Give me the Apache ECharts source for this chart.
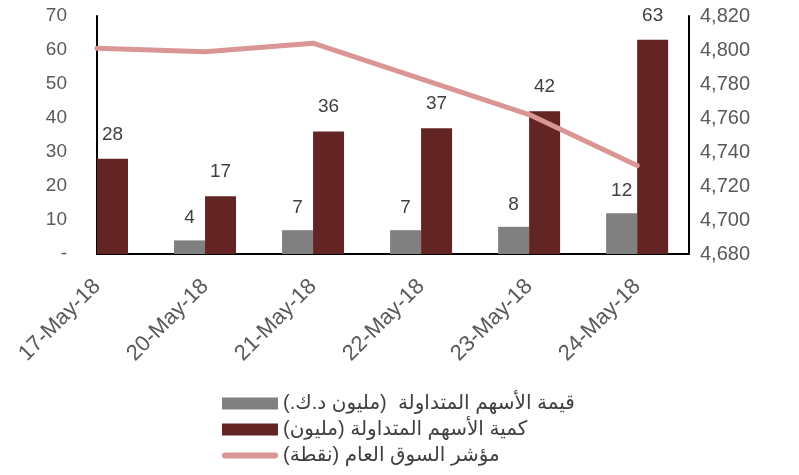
<!DOCTYPE html>
<html>
<head>
<meta charset="utf-8">
<script src="https://cdn.jsdelivr.net/npm/echarts@6/dist/echarts.min.js"></script>
<style>html,body{margin:0;padding:0;background:#fff}#c{width:799px;height:475px}</style>
</head>
<body>
<div id="c"></div>
<script>
const categories = ['17-May-18','20-May-18','21-May-18','22-May-18','23-May-18','24-May-18'];
const tradedValue = ['-', 4, 7, 7, 8, 12];
const tradedVolume = [28, 17, 36, 37, 42, 63];
const marketIndex = [4801, 4799, 4804, 4783, 4762, 4732];
const seriesNames = ['قيمة الأسهم المتداولة  (مليون د.ك.)', 'كمية الأسهم المتداولة (مليون)', 'مؤشر السوق العام (نقطة)'];
const leftTicks = {min: 0, max: 70, interval: 10};
const rightTicks = {min: 4680, max: 4820, interval: 20};

const numFont = '"Liberation Sans", Arial, sans-serif';
const chart = echarts.init(document.getElementById('c'), null, {renderer: 'canvas'});
const pairs = arr => arr.map((v, i) => [i, v]);

chart.setOption({
  animation: false,
  backgroundColor: '#fff',
  grid: {left: 97, right: 110, top: 16, bottom: 221},
  legend: {
    orient: 'vertical', left: 222, top: 393, height: 90, padding: 0,
    itemWidth: 56, itemHeight: 12, itemGap: 5,
    textStyle: {fontSize: 20, color: '#404040', lineHeight: 21, fontFamily: 'Arial, "DejaVu Sans", sans-serif'},
    data: [
      {name: seriesNames[0], icon: 'rect'},
      {name: seriesNames[1], icon: 'rect'},
      {name: seriesNames[2], icon: 'path://M3,0 h50 a3,3 0 0 1 0,6 h-50 a3,3 0 0 1 0,-6 z', itemStyle: {color: '#DA9694'}}
    ]
  },
  xAxis: {
    type: 'value', min: 0, max: 5.48, interval: 1,
    axisLine: {show: true, lineStyle: {color: '#000', width: 2}},
    axisTick: {show: false},
    splitLine: {show: false},
    axisLabel: {
      rotate: 45, margin: 29, fontSize: 22, color: '#595959', fontFamily: numFont,
      showMaxLabel: false,
      formatter: v => Number.isInteger(v) && categories[v] ? categories[v] : ''
    }
  },
  yAxis: [
    {
      type: 'value', min: leftTicks.min, max: leftTicks.max, interval: leftTicks.interval,
      axisLine: {show: true, lineStyle: {color: '#000', width: 2}},
      axisTick: {show: false}, splitLine: {show: false},
      axisLabel: {margin: 30, fontSize: 19, color: '#595959', fontFamily: numFont,
        formatter: v => v === 0 ? '-' : String(v)}
    },
    {
      type: 'value', min: rightTicks.min, max: rightTicks.max, interval: rightTicks.interval,
      position: 'right',
      axisLine: {show: true, lineStyle: {color: '#000', width: 2}},
      axisTick: {show: false}, splitLine: {show: false},
      axisLabel: {margin: 11, fontSize: 20, color: '#595959', fontFamily: numFont,
        formatter: v => v.toLocaleString('en-US')}
    }
  ],
  series: [
    {
      name: seriesNames[0], type: 'bar', data: pairs(tradedValue),
      barWidth: 31, barGap: '0%',
      itemStyle: {color: '#808080'},
      label: {show: true, position: 'top', distance: 13, fontSize: 19, color: '#404040', fontFamily: numFont}
    },
    {
      name: seriesNames[1], type: 'bar', data: pairs(tradedVolume),
      barWidth: 31, barGap: '0%',
      itemStyle: {color: '#632523'},
      label: {show: true, position: 'top', distance: 15, fontSize: 19, color: '#404040', fontFamily: numFont}
    },
    {
      name: seriesNames[2], type: 'line', yAxisIndex: 1, data: pairs(marketIndex),
      symbol: 'none', z: 5,
      itemStyle: {color: '#DA9694'},
      lineStyle: {color: '#DA9694', width: 5, cap: 'round'}
    }
  ]
});
</script>
</body>
</html>
